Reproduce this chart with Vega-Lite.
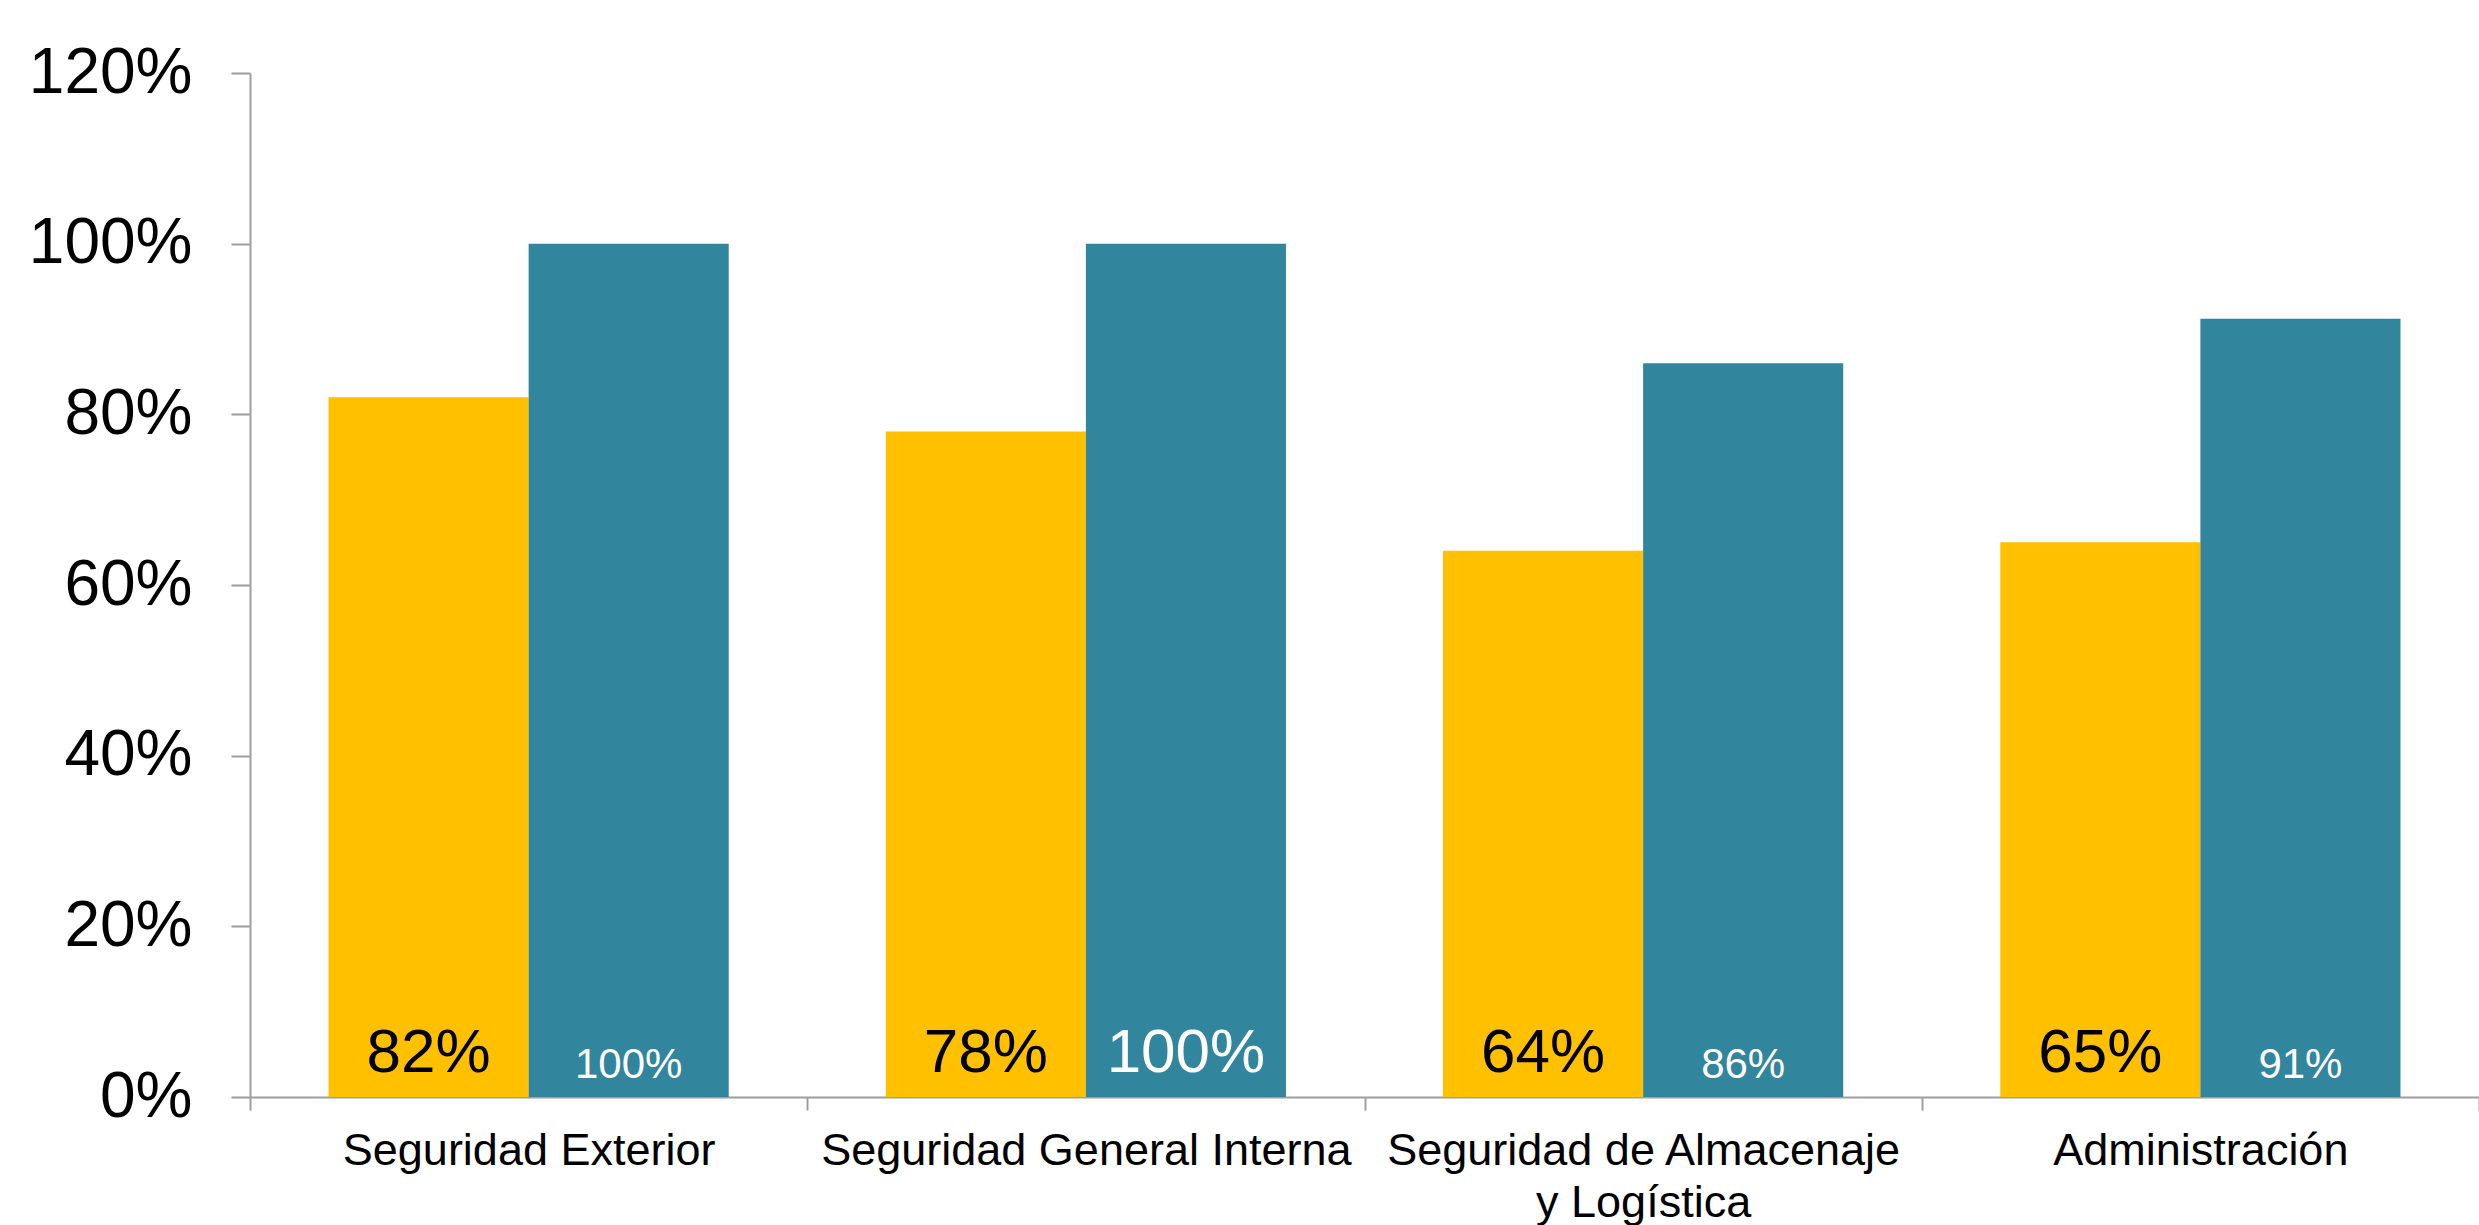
{
  "$schema": "https://vega.github.io/schema/vega-lite/v6.json",
  "autosize": {"type": "none"},
  "padding": {"left": 250, "top": 73, "right": 0, "bottom": 128},
  "width": 2229,
  "height": 1024,
  "background": "white",
  "config": {"view": {"stroke": null}, "font": "Liberation Sans"},
  "data": {
    "values": [
      {"categoria": "Seguridad Exterior", "serie": "Serie 1", "valor": 0.82},
      {"categoria": "Seguridad Exterior", "serie": "Serie 2", "valor": 1.0},
      {"categoria": "Seguridad General Interna", "serie": "Serie 1", "valor": 0.78},
      {"categoria": "Seguridad General Interna", "serie": "Serie 2", "valor": 1.0},
      {"categoria": "Seguridad de Almacenaje y Logística", "serie": "Serie 1", "valor": 0.64},
      {"categoria": "Seguridad de Almacenaje y Logística", "serie": "Serie 2", "valor": 0.86},
      {"categoria": "Administración", "serie": "Serie 1", "valor": 0.65},
      {"categoria": "Administración", "serie": "Serie 2", "valor": 0.912}
    ]
  },
  "encoding": {
    "x": {
      "field": "categoria",
      "type": "nominal",
      "sort": null,
      "scale": {"paddingInner": 0, "paddingOuter": 0},
      "axis": {
        "title": null,
        "labelAngle": 0,
        "tickBand": "extent",
        "domainColor": "#9e9e9e",
        "domainWidth": 2,
        "tickColor": "#9e9e9e",
        "tickWidth": 2,
        "tickSize": 13,
        "labelFont": "Liberation Sans",
        "labelFontSize": 45,
        "labelColor": "#000000",
        "labelPadding": 18,
        "labelLimit": 0,
        "labelOverlap": false,
        "labelLineHeight": 52,
        "labelBaseline": "top",
        "labelExpr": "datum.value == 'Seguridad de Almacenaje y Logística' ? ['Seguridad de Almacenaje', 'y Logística'] : datum.value"
      }
    },
    "xOffset": {
      "field": "serie",
      "type": "nominal",
      "scale": {"paddingInner": 0, "paddingOuter": 0.3925}
    }
  },
  "layer": [
    {
      "mark": {"type": "bar"},
      "encoding": {
        "y": {
          "field": "valor",
          "type": "quantitative",
          "scale": {"domain": [0, 1.2], "nice": false},
          "axis": {
            "title": null,
            "values": [0, 0.2, 0.4, 0.6, 0.8, 1.0, 1.2],
            "format": ".0%",
            "grid": false,
            "domainColor": "#9e9e9e",
            "domainWidth": 2,
            "tickColor": "#9e9e9e",
            "tickWidth": 2,
            "tickSize": 19,
            "labelFont": "Liberation Sans",
            "labelFontSize": 64,
            "labelColor": "#000000",
            "labelPadding": 39
          }
        },
        "color": {
          "field": "serie",
          "type": "nominal",
          "scale": {"domain": ["Serie 1", "Serie 2"], "range": ["#FFC000", "#31859C"]},
          "legend": null
        }
      }
    },
    {
      "transform": [{"filter": "datum.serie == 'Serie 1' || datum.categoria == 'Seguridad General Interna'"}],
      "mark": {"type": "text", "fontSize": 62, "baseline": "alphabetic", "align": "center", "dy": -25, "font": "Liberation Sans"},
      "encoding": {
        "y": {"datum": 0, "type": "quantitative"},
        "text": {"field": "valor", "type": "quantitative", "format": ".0%"},
        "color": {"condition": {"test": "datum.serie == 'Serie 1'", "value": "#000000"}, "value": "#ffffff"}
      }
    },
    {
      "transform": [{"filter": "!(datum.serie == 'Serie 1' || datum.categoria == 'Seguridad General Interna')"}],
      "mark": {"type": "text", "fontSize": 42, "baseline": "alphabetic", "align": "center", "dy": -19, "font": "Liberation Sans", "color": "#ffffff"},
      "encoding": {
        "y": {"datum": 0, "type": "quantitative"},
        "text": {"field": "valor", "type": "quantitative", "format": ".0%"}
      }
    }
  ]
}
